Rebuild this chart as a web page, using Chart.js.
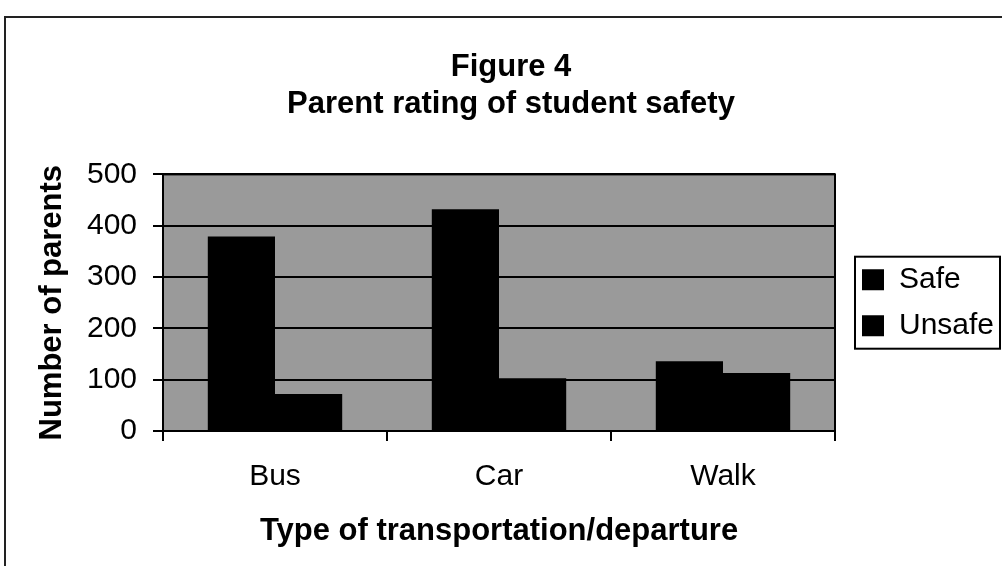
<!DOCTYPE html>
<html><head><meta charset="utf-8">
<script src="https://cdn.jsdelivr.net/npm/chart.js@4.4.1/dist/chart.umd.min.js"></script>
<style>html,body{margin:0;padding:0;background:#fff}#wrap{width:1002px;height:574px}</style>
</head><body><div id="wrap"><canvas id="c" width="1002" height="574"></canvas></div>
<script>
const categories = ['Bus', 'Car', 'Walk'];
const safeValues = [379, 432, 136];
const unsafeValues = [72, 103, 113];
const seriesNames = ['Safe', 'Unsafe'];
const yTicks = [0, 100, 200, 300, 400, 500];
const titleLines = ['Figure 4', 'Parent rating of student safety'];
const xTitle = 'Type of transportation/departure';
const yTitle = 'Number of parents';

const FONT = "'Liberation Sans', Arial, sans-serif";

const backdrop = {
  id: 'backdrop',
  beforeDraw(chart) {
    const {ctx, chartArea: a} = chart;
    ctx.save();
    ctx.fillStyle = '#fff';
    ctx.fillRect(0, 0, chart.width, chart.height);
    ctx.fillStyle = '#9a9a9a';
    ctx.fillRect(a.left, a.top, a.right - a.left, a.bottom - a.top);
    ctx.strokeStyle = '#222';
    ctx.lineWidth = 2;
    ctx.beginPath();
    ctx.moveTo(5, 566); ctx.lineTo(5, 17); ctx.lineTo(chart.width, 17);
    ctx.stroke();
    ctx.restore();
  },
  afterDatasetsDraw(chart) {
    const {ctx, chartArea: a} = chart;
    ctx.save();
    ctx.strokeStyle = '#000';
    ctx.lineWidth = 2;
    ctx.strokeRect(a.left, a.top, a.right - a.left, a.bottom - a.top);
    ctx.restore();
  },
  afterDraw(chart) {
    const lg = chart.legend;
    if (!lg || !lg.legendHitBoxes || !lg.legendHitBoxes.length) return;
    const hb = lg.legendHitBoxes;
    const first = hb[0], last = hb[hb.length - 1];
    const {ctx} = chart;
    ctx.save();
    ctx.strokeStyle = '#000';
    ctx.lineWidth = 2;
    const x0 = first.left - 7, y0 = first.top - 8;
    const y1 = last.top + last.height + 8;
    ctx.strokeRect(x0, y0, chart.width - 2 - x0, y1 - y0);
    ctx.restore();
  }
};

new Chart(document.getElementById('c'), {
  type: 'bar',
  data: {
    labels: categories,
    datasets: [
      {label: seriesNames[0], data: safeValues, backgroundColor: '#000', borderWidth: 0, categoryPercentage: 0.6, barPercentage: 1.0},
      {label: seriesNames[1], data: unsafeValues, backgroundColor: '#000', borderWidth: 0, categoryPercentage: 0.6, barPercentage: 1.0}
    ]
  },
  options: {
    responsive: false,
    animation: false,
    devicePixelRatio: 1,
    layout: {padding: {left: 20, right: 0, top: 0, bottom: 10}},
    plugins: {
      title: {
        display: true, text: titleLines, color: '#000', fullSize: true,
        font: {family: FONT, size: 31, weight: 'bold'},
        padding: {top: 49, bottom: 51}
      },
      legend: {
        display: true, position: 'right', fullSize: false, maxWidth: 156,
        labels: {boxWidth: 22, boxHeight: 21, padding: 16, color: '#000', font: {family: FONT, size: 30}}
      },
      tooltip: {enabled: false}
    },
    scales: {
      x: {
        grid: {display: true, drawOnChartArea: false, drawTicks: true, tickLength: 10, color: '#000', lineWidth: 2, offset: true},
        border: {display: true, color: '#000', width: 2},
        ticks: {color: '#000', padding: 18, font: {family: FONT, size: 30}},
        title: {display: true, text: xTitle, color: '#000', font: {family: FONT, size: 31, weight: 'bold'}, padding: {top: 0, bottom: 14}},
        afterFit(s) { s.height = 133; }
      },
      y: {
        min: 0, max: 500,
        afterBuildTicks(s) { s.ticks = yTicks.map(v => ({value: v})); },
        grid: {display: true, drawOnChartArea: true, drawTicks: true, tickLength: 10, color: '#000', lineWidth: 2},
        border: {display: true, color: '#000', width: 2},
        ticks: {color: '#000', padding: 16, font: {family: FONT, size: 30}},
        title: {display: true, text: yTitle, color: '#000', font: {family: FONT, size: 31, weight: 'bold'}, padding: {top: 14, bottom: 0}},
        afterFit(s) { s.width = 143; }
      },
      y2: {
        type: 'linear', position: 'right', display: true,
        grid: {display: false}, ticks: {display: false}, border: {display: false},
        afterFit(s) { s.width = 11; }
      }
    }
  },
  plugins: [backdrop]
});
</script>
</body></html>
